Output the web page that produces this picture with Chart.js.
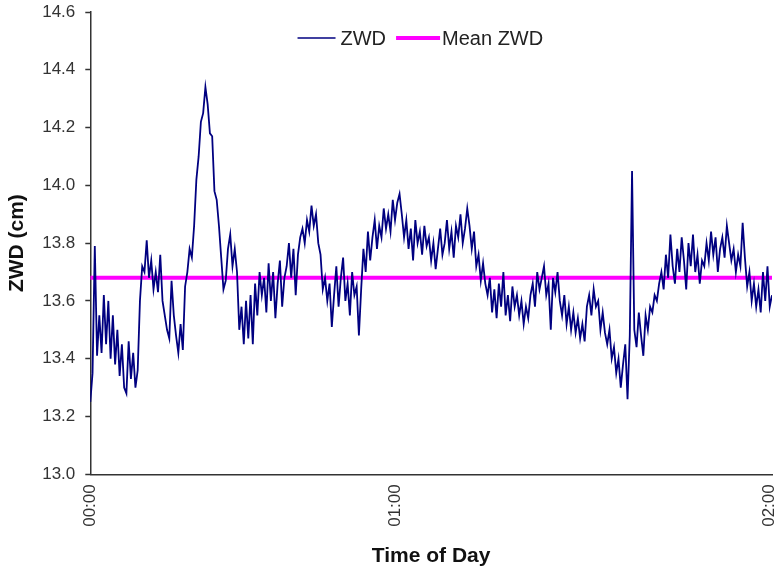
<!DOCTYPE html>
<html>
<head>
<meta charset="utf-8">
<script src="https://cdn.jsdelivr.net/npm/chart.js@4.4.0/dist/chart.umd.min.js"></script>
<style>
  html, body { margin: 0; padding: 0; background: #fff; }
  #wrap { width: 776px; height: 570px; }
</style>
</head>
<body>
<div id="wrap"><canvas id="myChart" width="776" height="570"></canvas></div>
<script>
// ZWD samples (cm), 00:00 -> 02:00
var zwd = [
  13.25, 13.35, 13.79,
  13.41, 13.55, 13.42, 13.62, 13.45, 13.60,
  13.40, 13.55, 13.38, 13.50, 13.34, 13.45, 13.30,
  13.28, 13.46, 13.33, 13.42, 13.30,
  13.36, 13.60, 13.72, 13.70, 13.81,
  13.68, 13.74, 13.64, 13.70, 13.63, 13.76,
  13.60, 13.55, 13.50, 13.47, 13.67,
  13.55, 13.48, 13.42, 13.52, 13.43,
  13.65, 13.70, 13.78, 13.75, 13.86,
  14.02, 14.10, 14.22, 14.25,
  14.34, 14.28, 14.18,
  14.17, 13.98, 13.95, 13.86,
  13.75, 13.64, 13.67, 13.78, 13.83,
  13.72, 13.78, 13.70, 13.50, 13.58, 13.45,
  13.60, 13.47, 13.62, 13.45, 13.66, 13.55,
  13.70, 13.62, 13.68, 13.56, 13.73, 13.60, 13.70, 13.54, 13.66, 13.74, 13.58, 13.68,
  13.72, 13.80, 13.68, 13.78, 13.62, 13.76,
  13.82, 13.85, 13.80, 13.88, 13.84, 13.93, 13.86, 13.90, 13.80,
  13.76, 13.64, 13.68, 13.60, 13.66, 13.51,
  13.62, 13.72, 13.58, 13.68, 13.75, 13.60, 13.66, 13.55, 13.70, 13.62, 13.65, 13.48,
  13.64, 13.78, 13.70, 13.84, 13.74, 13.82, 13.88, 13.78,
  13.86, 13.82, 13.92, 13.85, 13.90, 13.84, 13.95, 13.88, 13.94, 13.97,
  13.90, 13.82, 13.88, 13.78, 13.85, 13.74, 13.88, 13.80, 13.84, 13.76, 13.86, 13.79,
  13.82, 13.74, 13.80, 13.71, 13.78, 13.85, 13.76,
  13.80, 13.88, 13.78, 13.84, 13.75, 13.86, 13.82, 13.90, 13.80, 13.85, 13.92, 13.86,
  13.78, 13.84, 13.72, 13.76, 13.67, 13.73, 13.66,
  13.62, 13.68, 13.56, 13.64, 13.54, 13.66, 13.58, 13.70, 13.55, 13.62, 13.53, 13.65, 13.58, 13.62, 13.55, 13.60, 13.52, 13.58, 13.54,
  13.62, 13.66, 13.58, 13.70, 13.64, 13.68, 13.72, 13.62, 13.66, 13.50, 13.68, 13.63, 13.70,
  13.60, 13.55, 13.62, 13.52, 13.58, 13.50, 13.56, 13.49, 13.54,
  13.47, 13.52, 13.46, 13.58, 13.62, 13.55, 13.64, 13.58,
  13.60, 13.50, 13.56, 13.49,
  13.45, 13.50, 13.40, 13.44, 13.35, 13.40, 13.30, 13.38, 13.45, 13.26,
  13.48, 14.05,
  13.50, 13.44, 13.56, 13.48, 13.41, 13.55, 13.50, 13.58,
  13.56, 13.62, 13.60, 13.66, 13.70,
  13.64, 13.76, 13.68, 13.83, 13.72,
  13.66, 13.78, 13.70, 13.82, 13.74, 13.64, 13.80, 13.72, 13.83, 13.70, 13.76, 13.66, 13.74,
  13.72, 13.80, 13.74, 13.84, 13.76, 13.82, 13.70, 13.78, 13.82, 13.75, 13.86,
  13.80, 13.74, 13.78, 13.70, 13.76, 13.72, 13.87, 13.75,
  13.65, 13.70, 13.60, 13.66, 13.58, 13.64, 13.56, 13.70, 13.60, 13.72, 13.58, 13.62
];
var meanZwd = 13.68;

// time tick labels and the sample index where each falls
var tickLabels = ['00:00', '01:00', '02:00'];
var tickIndex = [0, 135, 301];

var yTicks = [13.0, 13.2, 13.4, 13.6, 13.8, 14.0, 14.2, 14.4, 14.6];

var last = zwd.length - 1;
var zwdPoints = zwd.map(function(v, i) { return { x: i, y: v }; });
var meanPoints = [{ x: 0, y: meanZwd }, { x: last, y: meanZwd }];

var font = 'Liberation Sans, Arial, sans-serif';
var axisColor = '#333';

// legend sits inside the plot, across the top (like the Excel one)
var topLegend = {
    id: 'topLegend',
    afterDraw: function(chart) {
        var c = chart.ctx;
        var area = chart.chartArea;
        var sets = chart.data.datasets;
        var lineLen = [38, 44];
        var gapAfterLine = [5, 2];
        c.save();
        c.font = '20px ' + font;
        var x = area.left + 0.304 * (area.right - area.left);
        var y = area.top + 26;
        sets.forEach(function(ds, i) {
            c.strokeStyle = ds.borderColor;
            c.lineWidth = i === 0 ? 1.5 : 4;
            c.beginPath();
            c.moveTo(x, y);
            c.lineTo(x + lineLen[i], y);
            c.stroke();
            x += lineLen[i] + gapAfterLine[i];
            c.fillStyle = '#222';
            c.textBaseline = 'middle';
            c.textAlign = 'left';
            c.fillText(ds.label, x, y + 1);
            x += c.measureText(ds.label).width + 10;
        });
        c.restore();
    }
};

var ctx = document.getElementById('myChart').getContext('2d');
var myChart = new Chart(ctx, {
    type: 'line',
    data: {
        datasets: [{
            label: 'ZWD',
            data: zwdPoints,
            borderColor: '#000080',
            backgroundColor: '#000080',
            borderWidth: 1.8,
            pointRadius: 0,
            tension: 0
        },
        {
            label: 'Mean ZWD',
            data: meanPoints,
            borderColor: '#ff00ff',
            backgroundColor: '#ff00ff',
            borderWidth: 4,
            pointRadius: 0,
            tension: 0
        }]
    },
    plugins: [topLegend],
    options: {
        responsive: false,
        animation: false,
        layout: { padding: { left: 5, right: 4, top: 0, bottom: 0 } },
        plugins: {
            legend: { display: false },
            tooltip: { enabled: false }
        },
        scales: {
            x: {
                type: 'linear',
                min: 0,
                max: last,
                afterBuildTicks: function(scale) {
                    scale.ticks = tickIndex.map(function(v) { return { value: v }; });
                },
                afterFit: function(scale) {
                    scale.paddingRight = 2;
                    scale.paddingLeft = 0;
                },
                ticks: {
                    autoSkip: false,
                    minRotation: 90,
                    maxRotation: 90,
                    padding: 6,
                    color: '#333',
                    font: { family: font, size: 17 },
                    callback: function(v) {
                        var k = tickIndex.indexOf(v);
                        return k >= 0 ? tickLabels[k] : '';
                    }
                },
                grid: { drawOnChartArea: false, tickLength: 4, tickColor: 'rgba(0,0,0,0)' },
                border: { display: true, color: axisColor, width: 1.5 },
                title: {
                    display: true,
                    text: 'Time of Day',
                    color: '#111',
                    font: { family: font, size: 21, weight: 'bold' },
                    padding: { top: 11, bottom: 1 }
                }
            },
            y: {
                min: 13.0,
                max: 14.6,
                afterBuildTicks: function(scale) {
                    scale.ticks = yTicks.map(function(v) { return { value: v }; });
                },
                afterFit: function(scale) {
                    scale.paddingTop = 12;
                },
                ticks: {
                    color: '#333',
                    font: { family: font, size: 17 },
                    padding: 10,
                    callback: function(v) { return Number(v).toFixed(1); }
                },
                grid: { drawOnChartArea: false, tickLength: 5, tickColor: axisColor, tickWidth: 1.5 },
                border: { display: true, color: axisColor, width: 1.5 },
                title: {
                    display: true,
                    text: 'ZWD (cm)',
                    color: '#111',
                    font: { family: font, size: 21, weight: 'bold' },
                    padding: { top: 0, bottom: 2 }
                }
            }
        }
    }
});
</script>
</body>
</html>
